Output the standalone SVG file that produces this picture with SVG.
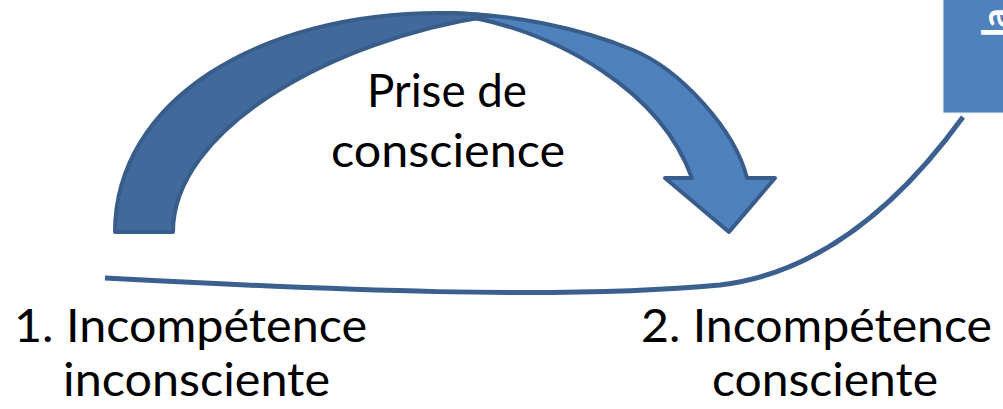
<svg xmlns="http://www.w3.org/2000/svg" width="1003" height="409" viewBox="0 0 1003 409">
<style>
.lbl{font-family:Lato,"Open Sans","Liberation Sans",sans-serif;font-size:46px;fill:#000}
.arrow{stroke:#385D8A;stroke-width:4;stroke-linejoin:round}
</style>
<rect width="1003" height="409" fill="#fff"/>
<g id="connectors">
<path d="M105,278 C330,290 560,300 720,285 C830,272 910,190 963,117" fill="none" stroke="#3B5F8F" stroke-width="5"/>
</g>
<g id="stage-box">
<rect x="943" y="-5" width="70" height="118" fill="#4F81BD" stroke="#E8EEF6" stroke-width="1"/>
<text transform="translate(1009,37) rotate(-90)" font-family="Lato,'Open Sans',sans-serif" font-size="38" font-weight="bold" fill="#fff">la</text>
</g>
<g id="arrow-prise">
<path class="arrow" fill="#4F81BD" d="M440,13 C510,13 580,28 633,50 C681,70 735,130 747,178 L775,178 L729,232 L665,178 L692,178 C660,90 560,35 470,17 Z"/>
<path class="arrow" fill="#41699B" d="M115,232 C115,100 260,13 440,13 C460,13 475,14 490,16 C330,40 173,130 173,232 Z"/>
<text class="lbl" x="367" y="107" textLength="160" lengthAdjust="spacingAndGlyphs">Prise de</text>
<text class="lbl" x="331" y="167" textLength="234" lengthAdjust="spacingAndGlyphs">conscience</text>
</g>
<g id="stage-1">
<text class="lbl" x="14" y="342" textLength="353" lengthAdjust="spacingAndGlyphs">1. Incompétence</text>
<text class="lbl" x="63" y="396" textLength="267" lengthAdjust="spacingAndGlyphs">inconsciente</text>
</g>
<g id="stage-2">
<text class="lbl" x="641" y="342" textLength="351" lengthAdjust="spacingAndGlyphs">2. Incompétence</text>
<text class="lbl" x="712" y="396" textLength="226" lengthAdjust="spacingAndGlyphs">consciente</text>
</g>
</svg>
